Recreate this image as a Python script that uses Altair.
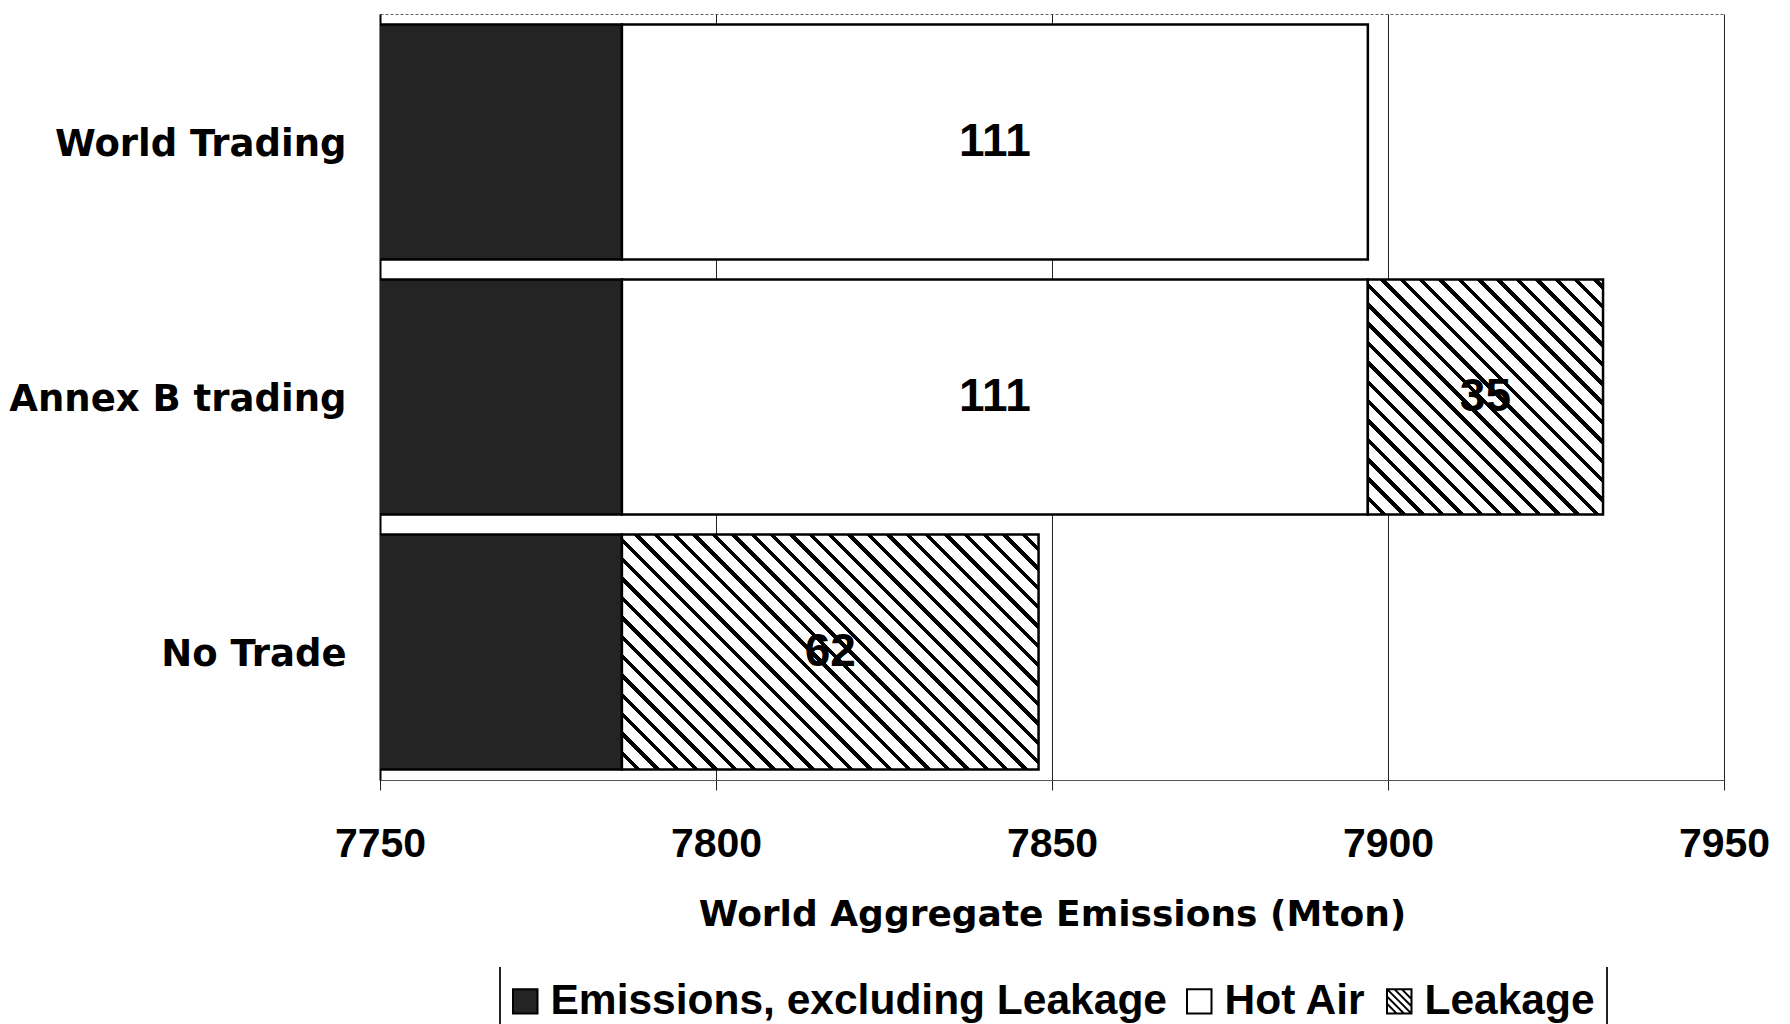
import math

import altair as alt
import pandas as pd

# ---- chart values ---------------------------------------------------------
scenarios = ["World Trading", "Annex B trading", "No Trade"]
components = ["Emissions, excluding Leakage", "Hot Air", "Leakage"]
emissions_excl_leakage = [7786, 7786, 7786]
hot_air = [111, 111, 0]
leakage = [0, 35, 62]

axis_ticks = [7750, 7800, 7850, 7900, 7950]
axis_min, axis_max = axis_ticks[0], axis_ticks[-1]

# ---- long table with stacked start/end per segment ------------------------
rows = []
for i, scen in enumerate(scenarios):
    start = 0
    for comp, series in zip(components, [emissions_excl_leakage, hot_air, leakage]):
        v = series[i]
        if v > 0:
            rows.append(
                dict(
                    scenario=scen,
                    component=comp,
                    value=v,
                    start=start,
                    end=start + v,
                    mid=(max(start, axis_min) + start + v) / 2,
                )
            )
        start += v
df = pd.DataFrame(rows)

# ---- layout ---------------------------------------------------------------
PLOT_W, PLOT_H = 1344, 766
PAD_INNER, PAD_OUTER = 0.078, 0.041
STEP = PLOT_H / (len(scenarios) - PAD_INNER + 2 * PAD_OUTER)
BAND = STEP * (1 - PAD_INNER)
PX_PER_UNIT = PLOT_W / (axis_max - axis_min)

LABEL_FONT = "Liberation Sans"
CAT_FONT = "DejaVu Sans"
STROKE_W = 2.5
DARK = "#242424"


def hatch_fill(width_units, period=13.7, ink=0.28):
    """Diagonal (top-left to bottom-right) hatching as a hard-stop linear gradient.

    The gradient vector is set in bounding-box units so that the stripes come out
    at 45 degrees on screen whatever the aspect ratio of the bar.
    """
    w = width_units * PX_PER_UNIT
    h = BAND
    s = (w + h) / (w * w + h * h)
    a, b = s * w, s * h
    n = (w + h) / (math.sqrt(2) * period)
    stops = []
    k = 0.0
    while k < n:
        t0 = k / n
        t1 = min((k + 1 - ink) / n, 1.0)
        t2 = min((k + 1) / n, 1.0)
        stops += [
            {"offset": t0, "color": "white"},
            {"offset": t1, "color": "white"},
            {"offset": t1, "color": "black"},
            {"offset": t2, "color": "black"},
        ]
        k += 1
    return {
        "gradient": "linear",
        "x1": 0,
        "y1": 1,
        "x2": a,
        "y2": 1 - b,
        "stops": stops,
    }


x_enc = alt.X(
    "start:Q",
    scale=alt.Scale(domain=[axis_min, axis_max], zero=False, nice=False),
    axis=alt.Axis(
        values=axis_ticks,
        format="d",
        grid=True,
        gridColor="#222222",
        gridWidth=1,
        ticks=True,
        tickColor="#222222",
        tickSize=10,
        tickWidth=1,
        domain=True,
        domainColor="#555555",
        domainWidth=1,
        labelFont=LABEL_FONT,
        labelFontWeight="bold",
        labelFontSize=41,
        labelColor="black",
        labelPadding=34,
        labelFlush=False,
        labelOverlap=False,
        title="World Aggregate Emissions (Mton)",
        titleFont=CAT_FONT,
        titleFontWeight="bold",
        titleFontSize=36,
        titleColor="black",
        titlePadding=33,
    ),
)
y_enc = alt.Y(
    "scenario:N",
    sort=scenarios,
    scale=alt.Scale(paddingInner=PAD_INNER, paddingOuter=PAD_OUTER),
    axis=alt.Axis(
        title=None,
        ticks=False,
        grid=False,
        domain=True,
        domainColor="black",
        domainWidth=2,
        labelFont=CAT_FONT,
        labelFontWeight="bold",
        labelFontSize=37,
        labelColor="black",
        labelPadding=34,
        labelOffset=3,
        labelLimit=1000,
    ),
)

base = alt.Chart(df)

emis_bars = (
    base.transform_filter(alt.datum.component == components[0])
    .mark_bar(fill=DARK, stroke="black", strokeWidth=STROKE_W, clip=True)
    .encode(x=x_enc, x2="end:Q", y=y_enc)
)
hot_bars = (
    base.transform_filter(alt.datum.component == components[1])
    .mark_bar(fill="white", stroke="black", strokeWidth=STROKE_W, clip=True)
    .encode(x=x_enc, x2="end:Q", y=y_enc)
)

leak_layers = []
for scen, v in zip(scenarios, leakage):
    if v <= 0:
        continue
    leak_layers.append(
        base.transform_filter(
            (alt.datum.component == components[2]) & (alt.datum.scenario == scen)
        )
        .mark_bar(fill=hatch_fill(v), stroke="black", strokeWidth=STROKE_W, clip=True)
        .encode(x=x_enc, x2="end:Q", y=y_enc)
    )

value_labels = (
    base.transform_filter(alt.datum.component != components[0])
    .mark_text(
        font=LABEL_FONT,
        fontWeight="bold",
        fontSize=46,
        color="black",
        align="center",
        baseline="middle",
    )
    .encode(x=alt.X("mid:Q"), y=y_enc, text=alt.Text("value:Q", format="d"))
)

# legend symbols: plain squares and a hatched square
square = "M-1,-1H1V1H-1Z"
hatched = (
    "M-1,-1H1V1H-1Z"
    "M-1,0.2L-0.2,1M-1,-0.4L0.4,1M-1,-1L1,1M-0.4,-1L1,0.4M0.2,-1L1,-0.2"
)
legend_cfg = dict(
    orient="none",
    legendX=124,
    legendY=966,
    direction="horizontal",
    title=None,
    labelFont=LABEL_FONT,
    labelFontWeight="bold",
    labelFontSize=42.5,
    labelColor="black",
    labelLimit=1000,
    labelOffset=4,
    columnPadding=11,
    symbolSize=600,
    symbolStrokeWidth=2,
    padding=0,
)
legend_keys = (
    base.transform_filter("false")
    .mark_point(filled=True, strokeWidth=2, opacity=1)
    .encode(
        x=alt.X("start:Q"),
        y=y_enc,
        fill=alt.Fill(
            "component:N",
            scale=alt.Scale(domain=components, range=[DARK, "white", "white"]),
            legend=alt.Legend(**legend_cfg),
        ),
        stroke=alt.Stroke(
            "component:N",
            scale=alt.Scale(domain=components, range=["black", "black", "black"]),
            legend=alt.Legend(**legend_cfg),
        ),
        shape=alt.Shape(
            "component:N",
            scale=alt.Scale(domain=components, range=[square, square, hatched]),
            legend=alt.Legend(**legend_cfg),
        ),
    )
)

# side rules framing the legend
frame_src = pd.DataFrame({"k": [0]})
legend_frame = [
    alt.Chart(frame_src)
    .mark_rule(color="#222222", strokeWidth=2)
    .encode(x=alt.value(xv), y=alt.value(953), y2=alt.value(1015))
    for xv in (120, 1227)
]

chart = (
    alt.layer(emis_bars, hot_bars, *leak_layers, value_labels, legend_keys, *legend_frame)
    .properties(
        width=PLOT_W,
        height=PLOT_H,
        autosize=alt.AutoSizeParams(type="none"),
        padding={"left": 380, "top": 14, "right": 66, "bottom": 244},
        background="white",
    )
    .configure_view(stroke="#666666", strokeWidth=1, strokeDash=[3, 2])
)

chart.save("out.html", embed_options={"renderer": "svg", "actions": False})
